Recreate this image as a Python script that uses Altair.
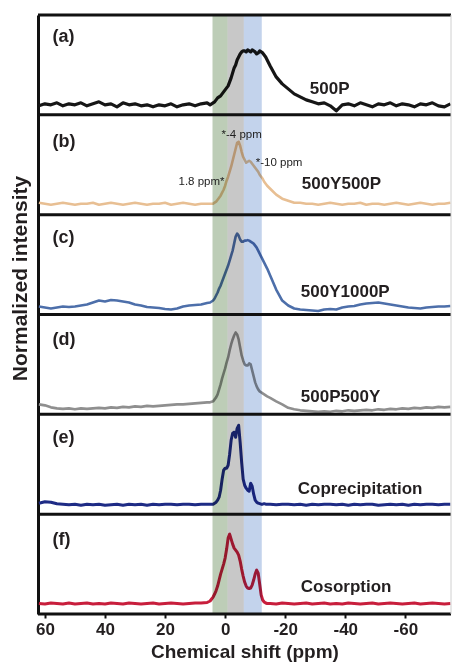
import altair as alt
import pandas as pd

# ---------------- data ----------------
PPM_LEFT = [62, 60, 58, 56, 54, 52, 50, 48, 46, 44, 42, 40, 38, 36, 34, 32, 30, 28,
            26, 24, 22, 20, 18, 16, 14, 12, 10, 8, 6]
PPM_MID = [5, 4.5, 4, 3.5, 3, 2.5, 2, 1.5, 1, 0.5, 0, -0.5, -1, -1.5, -2, -2.5, -3,
           -3.5, -4, -4.5, -5, -5.5, -6, -6.5, -7, -7.5, -8, -8.5, -9, -9.5, -10,
           -10.5, -11, -11.5, -12, -12.5, -13, -13.5, -14]
PPM_RIGHT = [-15, -17, -19, -21, -23, -25, -27, -29, -31, -33, -35, -37, -39, -41,
             -43, -45, -47, -49, -51, -53, -55, -57, -59, -61, -63, -65, -67, -69,
             -71, -73, -75]

SAMPLES = ["500P", "500Y500P", "500Y1000P", "500P500Y", "Coprecipitation", "Cosorption"]
PANEL_LABELS = ["(a)", "(b)", "(c)", "(d)", "(e)", "(f)"]
COLORS = ["#161616", "#E8BF93", "#4D6FAA", "#8F8F8F", "#1E2B85", "#C81E3C"]

A_L = [0.09, 0.11, 0.10, 0.12, 0.09, 0.11, 0.10, 0.12, 0.09, 0.11, 0.13, 0.10, 0.11,
       0.08, 0.12, 0.10, 0.11, 0.09, 0.10, 0.08, 0.10, 0.09, 0.11, 0.08, 0.10, 0.11,
       0.09, 0.11, 0.12]
A_M = [0.10, 0.11, 0.12, 0.13, 0.15, 0.17, 0.18, 0.19, 0.21, 0.23,
       0.25, 0.27, 0.29, 0.33, 0.37, 0.42, 0.47, 0.50, 0.55, 0.58,
       0.61, 0.63, 0.64, 0.64, 0.63, 0.65, 0.64, 0.63, 0.65, 0.64,
       0.63, 0.61, 0.62, 0.64, 0.63, 0.62, 0.60, 0.58, 0.55]
A_R = [0.49, 0.38, 0.31, 0.26, 0.21, 0.18, 0.15, 0.13, 0.11,
       0.12, 0.09, 0.04, 0.10, 0.11, 0.09, 0.12, 0.10, 0.08, 0.11,
       0.10, 0.12, 0.09, 0.11, 0.10, 0.08, 0.11, 0.10, 0.12, 0.09,
       0.08, 0.11]

B_L = [0.12, 0.11, 0.10, 0.11, 0.12, 0.11, 0.10, 0.11, 0.11, 0.12, 0.10, 0.11, 0.12,
       0.11, 0.10, 0.11, 0.12, 0.11, 0.10, 0.11, 0.11, 0.12, 0.10, 0.11, 0.12, 0.11,
       0.10, 0.11, 0.11]
B_M = [0.11, 0.11, 0.11, 0.12, 0.13, 0.15, 0.17, 0.19, 0.22, 0.25,
       0.29, 0.34, 0.38, 0.43, 0.48, 0.54, 0.60, 0.66, 0.72, 0.73,
       0.69, 0.63, 0.58, 0.55, 0.52, 0.53, 0.54, 0.53, 0.51, 0.49,
       0.47, 0.45, 0.43, 0.40, 0.38, 0.36, 0.33, 0.31, 0.29]
B_R = [0.26, 0.20, 0.16, 0.14, 0.12, 0.12, 0.11,
       0.11, 0.10, 0.11, 0.12, 0.11, 0.10, 0.11, 0.11, 0.12, 0.10,
       0.11, 0.11, 0.10, 0.11, 0.12, 0.11, 0.10, 0.11, 0.12, 0.11,
       0.10, 0.11, 0.11, 0.12]

C_L = [0.08, 0.07, 0.06, 0.07, 0.08, 0.075, 0.08, 0.09, 0.10, 0.12, 0.14, 0.13, 0.145,
       0.14, 0.13, 0.12, 0.10, 0.09, 0.075, 0.07, 0.065, 0.055, 0.05, 0.06, 0.08,
       0.09, 0.095, 0.10, 0.115]
C_M = [0.12, 0.13, 0.14, 0.16, 0.19, 0.22, 0.26, 0.29, 0.33, 0.37,
       0.41, 0.45, 0.49, 0.54, 0.59, 0.64, 0.71, 0.78, 0.81, 0.79,
       0.75, 0.73, 0.73, 0.74, 0.74, 0.745, 0.74, 0.73, 0.72, 0.71,
       0.69, 0.67, 0.64, 0.61, 0.58, 0.55, 0.52, 0.49, 0.46]
C_R = [0.39, 0.25, 0.14, 0.09, 0.06, 0.05, 0.045, 0.04, 0.035, 0.05,
       0.055, 0.05, 0.07, 0.08, 0.085, 0.10, 0.11, 0.115, 0.12, 0.11,
       0.10, 0.09, 0.08, 0.07, 0.065, 0.06, 0.07, 0.075, 0.08, 0.08, 0.085]

D_L = [0.10, 0.09, 0.07, 0.06, 0.055, 0.06, 0.05, 0.06, 0.055, 0.06, 0.065, 0.06, 0.07,
       0.065, 0.075, 0.07, 0.08, 0.075, 0.085, 0.08, 0.085, 0.09, 0.095, 0.10, 0.10,
       0.105, 0.11, 0.115, 0.12]
D_M = [0.12, 0.125, 0.13, 0.15, 0.17, 0.20, 0.25, 0.30, 0.36, 0.41,
       0.46, 0.52, 0.57, 0.64, 0.70, 0.75, 0.79, 0.82, 0.80, 0.75,
       0.67, 0.59, 0.54, 0.50, 0.49, 0.49, 0.51, 0.50, 0.44, 0.38,
       0.32, 0.28, 0.25, 0.23, 0.22, 0.21, 0.20, 0.19, 0.18]
D_R = [0.165, 0.13, 0.10, 0.065, 0.05, 0.04, 0.035, 0.03, 0.025, 0.03,
       0.025, 0.035, 0.03, 0.04, 0.035, 0.04, 0.045, 0.04, 0.05, 0.045,
       0.055, 0.05, 0.06, 0.055, 0.065, 0.06, 0.07, 0.065, 0.075, 0.07, 0.075]

E_L = [0.11, 0.125, 0.12, 0.105, 0.10, 0.095, 0.10, 0.09, 0.10, 0.095, 0.10, 0.09,
       0.095, 0.10, 0.09, 0.10, 0.095, 0.10, 0.09, 0.10, 0.095, 0.10, 0.10, 0.095,
       0.10, 0.10, 0.095, 0.10, 0.10]
E_M = [0.10, 0.10, 0.10, 0.11, 0.12, 0.14, 0.17, 0.24, 0.35, 0.44,
       0.46, 0.46, 0.49, 0.60, 0.74, 0.81, 0.82, 0.77, 0.86, 0.89,
       0.72, 0.52, 0.35, 0.29, 0.26, 0.24, 0.23, 0.31, 0.28, 0.20,
       0.14, 0.12, 0.11, 0.105, 0.10, 0.10, 0.105, 0.10, 0.10]
E_R = [0.10, 0.095, 0.10, 0.10, 0.095, 0.10, 0.09, 0.10, 0.095, 0.10,
       0.10, 0.095, 0.10, 0.09, 0.10, 0.095, 0.10, 0.10, 0.09, 0.095,
       0.10, 0.095, 0.10, 0.09, 0.10, 0.095, 0.10, 0.10, 0.095, 0.10, 0.10]

F_L = [0.105, 0.10, 0.11, 0.105, 0.10, 0.11, 0.10, 0.105, 0.11, 0.10, 0.105, 0.10,
       0.11, 0.105, 0.10, 0.11, 0.105, 0.10, 0.105, 0.11, 0.10, 0.105, 0.11, 0.105,
       0.10, 0.105, 0.11, 0.11, 0.115]
F_M = [0.13, 0.15, 0.17, 0.20, 0.235, 0.28, 0.34, 0.40, 0.45, 0.50,
       0.56, 0.65, 0.76, 0.80, 0.75, 0.70, 0.66, 0.64, 0.62, 0.59,
       0.53, 0.45, 0.38, 0.32, 0.28, 0.26, 0.255, 0.26, 0.29, 0.34,
       0.40, 0.44, 0.41, 0.30, 0.19, 0.14, 0.12, 0.11, 0.105]
F_R = [0.105, 0.10, 0.11, 0.105, 0.10, 0.105, 0.11, 0.10, 0.105, 0.11,
       0.10, 0.105, 0.10, 0.11, 0.105, 0.10, 0.105, 0.11, 0.10, 0.105,
       0.11, 0.105, 0.10, 0.105, 0.11, 0.10, 0.105, 0.11, 0.105, 0.10, 0.105]

SPECTRA = [A_L + A_M + A_R, B_L + B_M + B_R, C_L + C_M + C_R,
           D_L + D_M + D_R, E_L + E_M + E_R, F_L + F_M + F_R]

BAND_NAMES = ["green", "gray", "blue"]
BAND_START = [4.2, -0.8, -6.2]
BAND_END = [-0.8, -6.2, -12.2]
BAND_COLORS = ["#BDCDB7", "#C8C8C8", "#C3D3EC"]

ANNOTATIONS = ["*-4 ppm", "*-10 ppm", "1.8 ppm*"]
ANN_PPM = [1.2, -10.2, 0.2]

# ---------------- layout (positions / styles) ----------------
W, H = 413, 599
FONT = "Liberation Sans"
X_DOMAIN = [62.3, -75.2]
N = len(SAMPLES)
LABEL_PPM = 57.5
LABEL_V = [0.78, 0.73, 0.77, 0.74, 0.76, 0.74]
NAME_PPM = [-28.2, -25.5, -25.2, -25.2, -24.2, -25.2]
NAME_V = [0.26, 0.31, 0.23, 0.17, 0.25, 0.27]
ANN_V = [0.80, 0.52, 0.33]
ANN_ALIGN = ["left", "left", "right"]
STROKE_W = [3.2, 2.6, 2.6, 2.6, 3.0, 3.0]

ppm_all = PPM_LEFT + PPM_MID + PPM_RIGHT
rows = []
for i, (name, vals) in enumerate(zip(SAMPLES, SPECTRA)):
    off = N - 1 - i
    for p, v in zip(ppm_all, vals):
        rows.append({"ppm": p, "y": off + v, "sample": name, "sw": STROKE_W[i]})
spec_df = pd.DataFrame(rows)

x_scale = alt.Scale(domain=X_DOMAIN, nice=False, zero=False)
y_scale = alt.Scale(domain=[0, N], nice=False, zero=False)

x_enc = alt.X(
    "ppm:Q", scale=x_scale,
    axis=alt.Axis(
        values=[60, 40, 20, 0, -20, -40, -60], labelExpr="'' + datum.value",
        title="Chemical shift (ppm)", titleFont=FONT, titleFontSize=19,
        titleFontWeight="bold", titleColor="#231f20", titlePadding=5,
        labelFont=FONT, labelFontSize=17, labelFontWeight="bold",
        labelColor="#231f20", labelPadding=3, labelFlush=False,
        tickColor="#111", tickSize=4, tickWidth=2, domain=False, grid=False,
    ),
)
y_enc = alt.Y(
    "y:Q", scale=y_scale,
    axis=alt.Axis(
        title="Normalized intensity", titleFont=FONT, titleFontSize=21,
        titleFontWeight="bold", titleColor="#231f20", titleX=-12, titleY=263,
        titleAngle=270, titleAlign="center", titleBaseline="alphabetic",
        labels=False, ticks=False, grid=False, domain=True,
        domainColor="#111", domainWidth=3,
    ),
)

lines = alt.Chart(spec_df).mark_line(clip=True, strokeJoin="round").encode(
    x=x_enc,
    y=y_enc,
    stroke=alt.Stroke("sample:N", scale=alt.Scale(domain=SAMPLES, range=COLORS), legend=None),
    strokeWidth=alt.StrokeWidth("sw:Q", scale=None),
    detail="sample:N",
    order="ppm:Q",
)

band_df = pd.DataFrame({"band": BAND_NAMES, "start": BAND_START, "end": BAND_END})
bands = alt.Chart(band_df).mark_rect(blend="multiply").encode(
    x=alt.X("start:Q", scale=x_scale),
    x2="end:Q",
    y=alt.datum(0, scale=y_scale),
    y2=alt.datum(N),
    fill=alt.Fill("band:N", scale=alt.Scale(domain=BAND_NAMES, range=BAND_COLORS), legend=None),
)

sep_df = pd.DataFrame({"y": list(range(0, N + 1))})
seps = alt.Chart(sep_df).mark_rule(color="#111", strokeWidth=3).encode(
    y=alt.Y("y:Q", scale=y_scale),
)

edge_df = pd.DataFrame({"ppm": [X_DOMAIN[1]]})
edge = alt.Chart(edge_df).mark_rule(color="#d0d0d0", strokeWidth=1).encode(
    x=alt.X("ppm:Q", scale=x_scale),
)

lab_df = pd.DataFrame({
    "label": PANEL_LABELS,
    "ppm": [LABEL_PPM] * N,
    "y": [N - 1 - i + LABEL_V[i] for i in range(N)],
})
labels = alt.Chart(lab_df).mark_text(
    align="left", baseline="middle", font=FONT, fontSize=18, fontWeight="bold", color="#231f20"
).encode(x=alt.X("ppm:Q", scale=x_scale), y=alt.Y("y:Q", scale=y_scale), text="label:N")

name_df = pd.DataFrame({
    "label": SAMPLES,
    "ppm": NAME_PPM,
    "y": [N - 1 - i + NAME_V[i] for i in range(N)],
})
names = alt.Chart(name_df).mark_text(
    align="left", baseline="middle", font=FONT, fontSize=17, fontWeight="bold", color="#231f20"
).encode(x=alt.X("ppm:Q", scale=x_scale), y=alt.Y("y:Q", scale=y_scale), text="label:N")

ann_layers = []
for t, p, v, a in zip(ANNOTATIONS, ANN_PPM, ANN_V, ANN_ALIGN):
    d = pd.DataFrame({"label": [t], "ppm": [p], "y": [N - 2 + v]})
    ann_layers.append(
        alt.Chart(d).mark_text(
            align=a, baseline="middle", font=FONT, fontSize=11.5, color="#222222"
        ).encode(x=alt.X("ppm:Q", scale=x_scale), y=alt.Y("y:Q", scale=y_scale), text="label:N")
    )

chart = alt.layer(lines, bands, seps, edge, labels, names, *ann_layers).properties(
    width=W, height=H,
    padding={"left": 38, "top": 15, "right": 1, "bottom": 49},
    autosize=alt.AutoSizeParams(type="none"),
    background="white",
).configure_view(stroke=None)

chart.save("out.html", embed_options={"renderer": "svg", "actions": False})
